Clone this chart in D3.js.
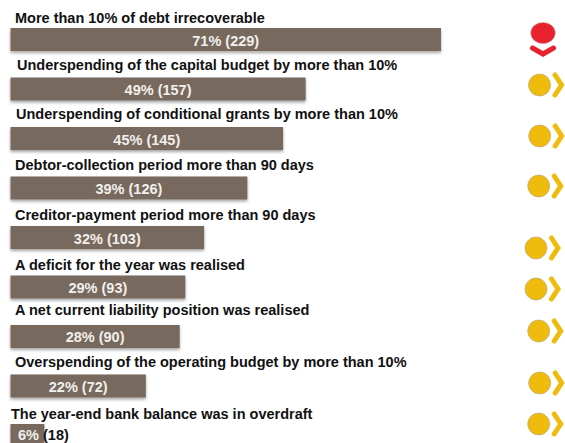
<!DOCTYPE html>
<html lang="en">

<head>
    <meta charset="UTF-8">
    <title>Financial health indicators</title>
    <script src="https://d3js.org/d3.v7.min.js"></script>
    <style>
      html, body { margin: 0; padding: 0; background: #fff; }
      svg { display: block; }
      text { font-family: "Liberation Sans", Arial, sans-serif; font-weight: bold; font-size: 14.5px; }
    </style>
</head>

<body>
<svg></svg>

<script>
  const indicators = [
    'More than 10% of debt irrecoverable',
    'Underspending of the capital budget by more than 10%',
    'Underspending of conditional grants by more than 10%',
    'Debtor-collection period more than 90 days',
    'Creditor-payment period more than 90 days',
    'A deficit for the year was realised',
    'A net current liability position was realised',
    'Overspending of the operating budget by more than 10%',
    'The year-end bank balance was in overdraft'
  ]
  const percents = [71, 49, 45, 39, 32, 29, 28, 22, 6]
  const counts = [229, 157, 145, 126, 103, 93, 90, 72, 18]
  const statuses = ['down', 'right', 'right', 'right', 'right', 'right', 'right', 'right', 'right']

  // the picture is not evenly laid out, so small offsets per row
  const labelDx = [0, 2, 1, 0, 0, 0, 0, 0, -4]
  const labelDy = [-5, -7, -7.5, -6.5, -6, -5, -10, -7, -5]
  const iconDx = [4, 0.5, 0.7, -0.3, -3, -3, -0.3, 0.7, -0.3]
  const iconDy = [-6.5, -4, -2.5, -2, 10.5, 2, -5.5, -3, -11.5]

  const width = 565
  const height = 443
  const brown = '#77695d'

  const svg = d3.select('svg').attr('width', width).attr('height', height)

  const shadow = svg.append('defs').append('filter').attr('id', 'shadow')
    .attr('x', '-2%').attr('y', '-20%').attr('width', '104%').attr('height', '150%')
  shadow.append('feDropShadow')
    .attr('dx', 0).attr('dy', 2).attr('stdDeviation', 1.5)
    .attr('flood-color', '#000').attr('flood-opacity', 0.35)

  // bar lengths follow the counts, not the rounded percentages
  const x = d3.scaleLinear().domain([0, 229]).range([10.5, 441])
  const y = d3.scaleBand().domain(indicators).range([28, 447]).paddingInner(0.535).paddingOuter(0)
  const rows = indicators.map((name, i) => ({
    name, i, percent: percents[i], count: counts[i], status: statuses[i]
  }))

  // bars
  svg.append('g').selectAll('rect')
    .data(rows)
    .join('rect')
    .attr('x', x(0))
    .attr('y', d => y(d.name))
    .attr('width', d => x(d.count) - x(0))
    .attr('height', y.bandwidth())
    .attr('fill', brown)
    .attr('filter', 'url(#shadow)')

  // label above each bar
  svg.append('g').selectAll('text')
    .data(rows)
    .join('text')
    .attr('x', d => 15 + labelDx[d.i])
    .attr('y', d => y(d.name) + labelDy[d.i])
    .attr('fill', '#111')
    .text(d => d.name)

  // value inside the bar; the last bar is too short so the count sits outside
  const values = svg.append('g').selectAll('text')
    .data(rows)
    .join('text')
    .attr('y', d => Math.min(y(d.name) + y.bandwidth() / 2 + 6, 439.5))

  values.filter(d => d.percent >= 10)
    .attr('x', d => (x(0) + x(d.count)) / 2)
    .attr('text-anchor', 'middle')
    .attr('fill', '#f2efec')
    .text(d => `${d.percent}% (${d.count})`)

  values.filter(d => d.percent < 10)
    .attr('x', 18)
    .each(function (d) {
      d3.select(this).append('tspan').attr('fill', '#f2efec').text(`${d.percent}% `)
      d3.select(this).append('tspan').attr('fill', '#111').text(`(${d.count})`)
    })

  // status icons
  const icon = svg.append('g').selectAll('g')
    .data(rows)
    .join('g')
    .attr('transform', d => `translate(${539 + iconDx[d.i]},${y(d.name) + y.bandwidth() / 2 + iconDy[d.i]})`)

  icon.filter(d => d.status === 'down').each(function () {
    const g = d3.select(this)
    g.append('ellipse').attr('rx', 12.3).attr('ry', 10.5).attr('fill', '#e8212e').attr('stroke', '#c9a0a0').attr('stroke-width', 0.5)
    g.append('path').attr('d', 'M-10.5,15 L0,21 L10.5,15').attr('fill', 'none')
      .attr('stroke', '#e8212e').attr('stroke-width', 5).attr('stroke-linecap', 'round').attr('stroke-linejoin', 'miter')
  })

  icon.filter(d => d.status === 'right').each(function () {
    const g = d3.select(this)
    g.append('circle').attr('r', 11).attr('fill', '#efbb0c').attr('stroke', '#b9ab7c').attr('stroke-width', 0.7)
    g.append('path').attr('d', 'M15.5,-10 L22,0 L15.5,10').attr('fill', 'none')
      .attr('stroke', '#efbb0c').attr('stroke-width', 5).attr('stroke-linecap', 'round').attr('stroke-linejoin', 'miter')
  })
</script>

</body>

</html>
